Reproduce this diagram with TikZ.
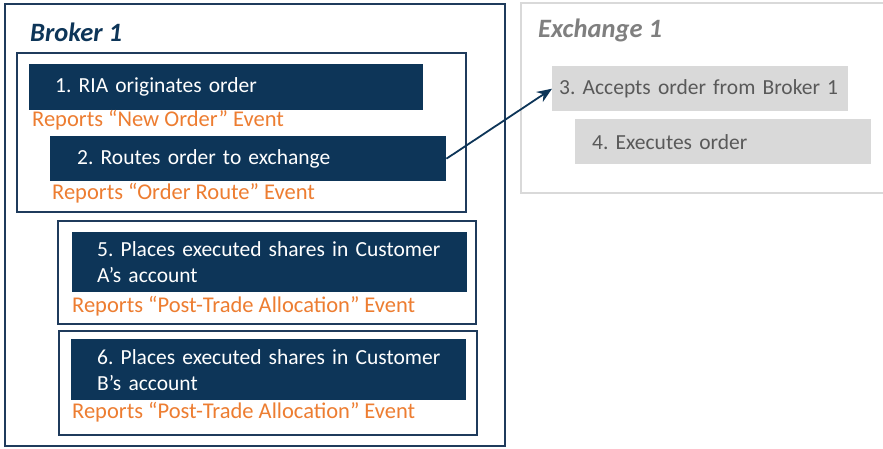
\documentclass[tikz,border=0pt]{standalone}
\usepackage{fontspec}
\setmainfont{Carlito}
\frenchspacing
\usetikzlibrary{arrows.meta}
\definecolor{navy}{HTML}{0D3558}
\definecolor{framenavy}{HTML}{1F3B5C}
\definecolor{rptorange}{HTML}{ED7D31}
\definecolor{exgray}{HTML}{D9D9D9}
\definecolor{exgraytext}{HTML}{595959}
\definecolor{extitle}{HTML}{7F7F7F}
\tikzset{
  stepbox/.style={fill=navy, text=white, anchor=north west, align=left,
    inner ysep=0pt, font=\fontsize{21.5}{26}\selectfont},
  exbox/.style={fill=exgray, text=exgraytext, anchor=north west, align=left,
    inner ysep=0pt, font=\fontsize{21.5}{26}\selectfont},
  report/.style={text=rptorange, anchor=west, inner sep=0pt, font=\fontsize{22.5}{26}\selectfont},
  frame/.style={draw=framenavy, line width=2.2pt},
  title/.style={anchor=west, inner sep=0pt, font=\fontsize{26.5}{30}\selectfont\bfseries\itshape},
}
\begin{document}
\begin{tikzpicture}[x=1pt, y=-1pt]
  \useasboundingbox[fill=white] (0,0) rectangle (883,448);
  % containers
  \draw[draw=framenavy, line width=1.8pt] (5,4) rectangle (505,446);
  \draw[draw=exgray, line width=2pt] (521,3) rectangle (890,193);
  \draw[frame] (17,53) rectangle (466,212);
  \draw[frame] (58,221) rectangle (476,324);
  \draw[frame] (59,331) rectangle (477,435);
  % titles
  \node[title, text=navy] (broker) at (30,32) {Broker 1};
  \node[title, text=extitle] (exchange) at (538,30) {Exchange 1};
  % broker steps
  \node[stepbox, minimum height=46, inner xsep=26, text width=342] (ria) at (29,64) {1. RIA originates order};
  \node[report] (rptnew) at (32,120) {Reports “New Order” Event};
  \node[stepbox, minimum height=45, inner xsep=27, text width=342] (route) at (50,136) {2. Routes order to exchange};
  \node[report] (rptroute) at (52,193) {Reports “Order Route” Event};
  \node[stepbox, minimum height=60, inner xsep=25, text width=345] (placea) at (72,232) {\mbox{5. Places executed shares in Customer}\\A’s account};
  \node[report] (rpta) at (72,306) {Reports “Post-Trade Allocation” Event};
  \node[stepbox, minimum height=61, inner xsep=26, text width=343] (placeb) at (71,339) {\mbox{6. Places executed shares in Customer}\\B’s account};
  \node[report] (rptb) at (72,412) {Reports “Post-Trade Allocation” Event};
  % exchange steps
  \node[exbox, minimum height=45, inner xsep=7, text width=282] (accept) at (552,66) {\mbox{3. Accepts order from Broker 1}};
  \node[exbox, minimum height=45, inner xsep=17, text width=262] (execute) at (575,119) {4. Executes order};
  % routing
  \draw[->, >={Stealth[length=15pt,width=12pt]}, draw=navy, line width=1.8pt] (route.east) -- (accept.west);
\end{tikzpicture}
\end{document}
